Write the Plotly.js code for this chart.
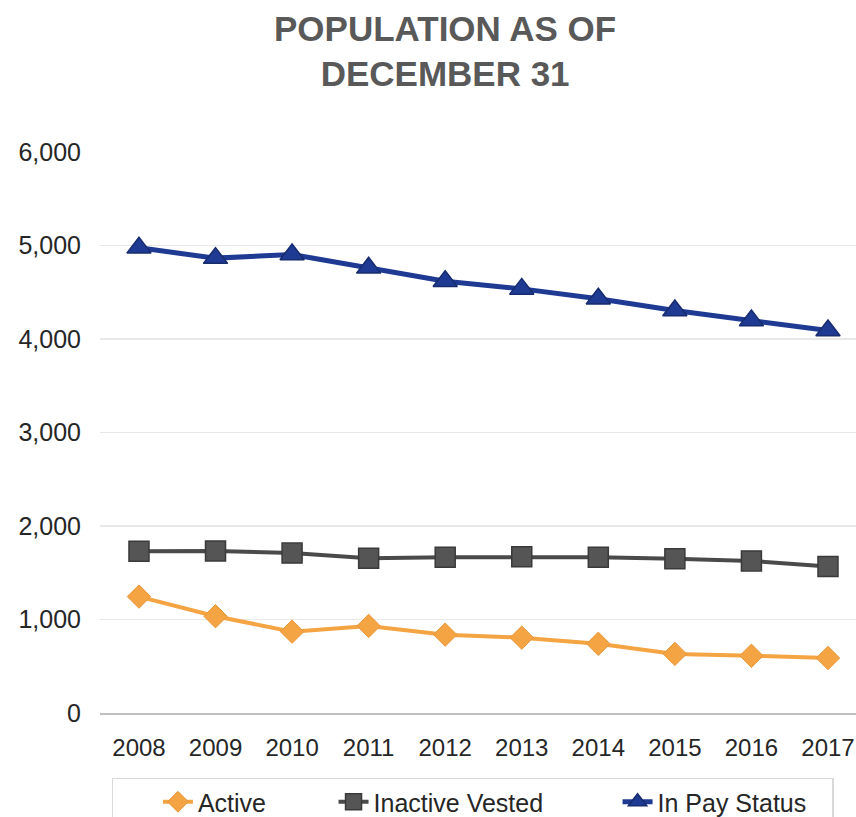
<!DOCTYPE html>
<html>
<head>
<meta charset="utf-8">
<script src="https://cdn.plot.ly/plotly-3.0.1.min.js"></script>
<style>html,body{margin:0;padding:0;background:#fff;}#chart{width:856px;height:817px;}</style>
</head>
<body>
<div id="chart"></div>
<script>
const years = ["2008","2009","2010","2011","2012","2013","2014","2015","2016","2017"];
const active = [1245, 1035, 870, 931, 838, 806, 740, 632, 612, 588];
const inactiveVested = [1730, 1733, 1710, 1656, 1667, 1672, 1667, 1649, 1627, 1566];
const inPayStatus = [4975, 4865, 4904, 4761, 4618, 4536, 4430, 4304, 4197, 4090];
const yTicks = [0, 1000, 2000, 3000, 4000, 5000, 6000];
const yTickText = ["0", "1,000", "2,000", "3,000", "4,000", "5,000", "6,000"];
const seriesNames = ["Active", "Inactive Vested", "In Pay Status"];

const font = "Liberation Sans, Arial, sans-serif";
const sp = n => "\u00a0".repeat(n);
const traces = [
  {x: years, y: active, name: seriesNames[0] + sp(9), type: "scatter", mode: "lines+markers",
   line: {color: "#F5A443", width: 4},
   marker: {symbol: "diamond", size: 18, color: "#F5A443", line: {color: "#E8963A", width: 1}}},
  {x: years, y: inactiveVested, name: seriesNames[1] + sp(10), type: "scatter", mode: "lines+markers",
   line: {color: "#4a4a4a", width: 4},
   marker: {symbol: "square", size: 20, color: "#555555", line: {color: "#3a3a3a", width: 1.5}}},
  {x: years, y: inPayStatus, name: seriesNames[2] + sp(3), type: "scatter", mode: "lines+markers",
   line: {color: "#1F3A93", width: 5},
   marker: {symbol: "triangle-up", size: 21, color: "#1F3A93", line: {color: "#172C6E", width: 1.5}}}
];

const layout = {
  width: 856, height: 817,
  paper_bgcolor: "#ffffff", plot_bgcolor: "#ffffff",
  margin: {l: 100, r: 0, t: 152, b: 104, autoexpand: false},
  title: {text: "POPULATION AS OF<br>DECEMBER 31", x: 0.52, xanchor: "center", y: 0.95, yanchor: "top",
          font: {family: font, size: 35, color: "#595959", weight: "bold"}},
  xaxis: {type: "category", range: [-0.509, 9.366], showgrid: false, showline: true,
          linecolor: "#bfbfbf", linewidth: 2, ticks: "", zeroline: false,
          ticklabelstandoff: 12,
          tickfont: {family: font, size: 24, color: "#262626"}, fixedrange: true},
  yaxis: {range: [0, 6000], tickvals: yTicks, ticktext: yTickText, showgrid: true,
          gridcolor: "#e8e8e8", gridwidth: 1.5, zeroline: false, showline: false, ticks: "",
          ticklabelstandoff: 18,
          tickfont: {family: font, size: 25, color: "#262626"}, fixedrange: true},
  legend: {orientation: "h", x: 0.493, xanchor: "center", y: -0.115, yanchor: "top",
           bordercolor: "#d9d9d9", borderwidth: 1.5, bgcolor: "#ffffff",
           title: {text: sp(5), side: "left", font: {family: font, size: 25}},
           font: {family: font, size: 25, color: "#262626"},
           traceorder: "normal"},
  showlegend: true
};

Plotly.newPlot("chart", traces, layout, {displayModeBar: false, staticPlot: true});
</script>
</body>
</html>
